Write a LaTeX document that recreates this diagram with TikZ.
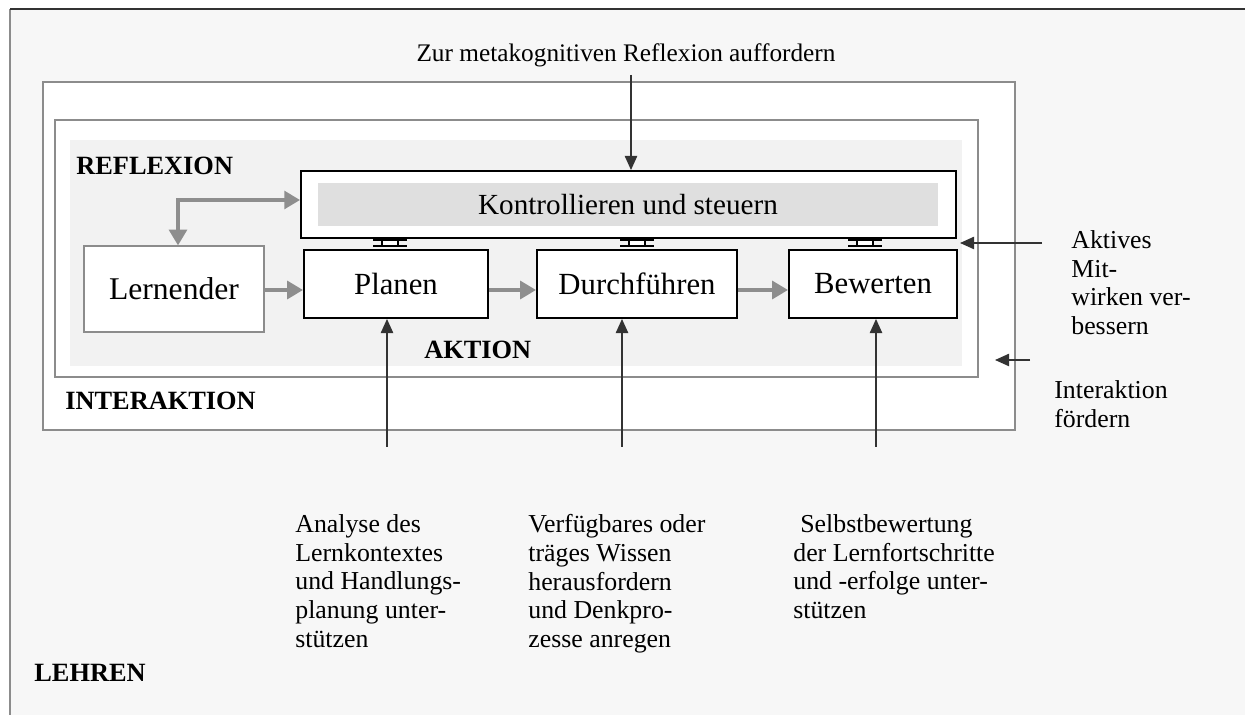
\documentclass[tikz,border=0pt]{standalone}
\usepackage{fontspec}
\setmainfont{Liberation Serif}
\usetikzlibrary{arrows.meta}
\definecolor{lehrbg}{HTML}{F7F7F7}
\definecolor{fillgray}{HTML}{F2F2F2}
\definecolor{kontgray}{HTML}{DFDFDF}
\definecolor{framegray}{HTML}{8C8C8C}
\definecolor{arrowgray}{HTML}{8E8E8E}
\definecolor{darkline}{HTML}{333333}

\begin{document}
\begin{tikzpicture}[x=0.02cm, y=-0.02cm,
	every node/.style={font=\fontsize{14.7}{16.4}\selectfont, inner sep=0pt},
	>={Triangle[length=8pt,width=7pt]},
	flowtip/.tip={Triangle[length=9pt,width=10pt]},
	tag/.style={font=\fontsize{15}{16.4}\selectfont\bfseries, anchor=base west},
	stage/.style={draw, line width=1.1pt, fill=white, minimum height=1.36cm, font=\fontsize{17.5}{20}\selectfont},
	flow/.style={-flowtip, arrowgray, line width=2.8pt},
	hint/.style={->, darkline, line width=0.8pt},
	note/.style={anchor=north west, align=left}]
	\useasboundingbox (0,0) rectangle (1245,715);
	\fill[white] (0,0) rectangle (1245,715);
	\fill[lehrbg] (10,9) rectangle (1245,715);
	\draw[framegray, line width=0.9pt] (10,715) -- (10,9);
	\draw[darkline, line width=1.1pt] (10,9) -- (1245,9);
	\draw[framegray, line width=0.7pt, fill=white] (43,82) rectangle (1015,430);
	\draw[framegray, line width=1.1pt, fill=white] (55,120) rectangle (978,377);
	\fill[fillgray] (70,140) rectangle (962,366);

	\node[anchor=base, font=\fontsize{14.4}{16.4}\selectfont] (ztitle) at (626,62) {Zur metakognitiven Reflexion auffordern};
	\node[tag] (reflex) at (76,175) {REFLEXION};
	\node[tag] (aktion) at (424,359) {AKTION};
	\node[tag] (interak) at (65,410) {INTERAKTION};
	\node[tag] (lehren) at (34,682) {LEHREN};

	\node[draw, line width=1.1pt, fill=white, minimum width=13.1cm, minimum height=1.34cm] (kont) at (628.5,204.5) {};
	\node[fill=kontgray, minimum width=12.4cm, minimum height=0.86cm, font=\fontsize{16.6}{19}\selectfont] (kontin) at (628,204.5) {Kontrollieren und steuern};
	\node[draw=framegray, line width=0.6pt, fill=white, minimum width=3.6cm, minimum height=1.72cm, font=\fontsize{18}{21}\selectfont] (lern) at (174,289) {Lernender};
	\node[stage, minimum width=3.68cm] (planen) at (396,284) {Planen};
	\node[stage, minimum width=4cm] (durch) at (637,284) {Durchführen};
	\node[stage, minimum width=3.36cm] (bewert) at (873,284) {Bewerten};

	\foreach \s/\dx in {planen/-6,durch/0,bewert/-8} {
		\path (\s.north) ++(\dx,-6) coordinate (c);
		\fill[white] (c) ++(-8,-3) rectangle ++(16,6);
		\draw[line width=1.6pt] (c) ++(-17,-3) -- ++(34,0) (c) ++(-17,3) -- ++(34,0);
		\draw[line width=0.8pt] (c) ++(-8,-3) -- ++(0,6) (c) ++(8,-3) -- ++(0,6);
	}

	\draw[flow] (lern.east |- 0,290) -- (planen.west |- 0,290);
	\draw[flow] (planen.east |- 0,290) -- (durch.west |- 0,290);
	\draw[flow] (durch.east |- 0,290) -- (bewert.west |- 0,290);
	\draw[flowtip-flowtip, arrowgray, line width=2.8pt] (178,0 |- lern.north) -- (178,200) -- (kont.west |- 0,200);

	\node[note] (aktiv) at (1071,230) {Aktives\\Mit-\\wirken ver-\\bessern};
	\node[note] (interf) at (1054,380) {Interaktion\\fördern};
	\node[note] (analyse) at (295,514) {Analyse des\\Lernkontextes\\und Handlungs-\\planung unter-\\stützen};
	\node[note] (verfueg) at (528,514) {Verfügbares oder\\träges Wissen\\herausfordern\\und Denkpro-\\zesse anregen};
	\node[note] (selbst) at (793,514) {\hspace*{4pt}Selbstbewertung\\der Lernfortschritte\\und -erfolge unter-\\stützen};

	\draw[hint] (631,75) -- (631,0 |- kont.north);
	\draw[hint] (1042,243) -- (960,243);
	\draw[hint] (1030,360) -- (995,360);
	\draw[hint] (387,447) -- (387,0 |- planen.south);
	\draw[hint] (622,447) -- (622,0 |- durch.south);
	\draw[hint] (876,447) -- (876,0 |- bewert.south);
\end{tikzpicture}
\end{document}
